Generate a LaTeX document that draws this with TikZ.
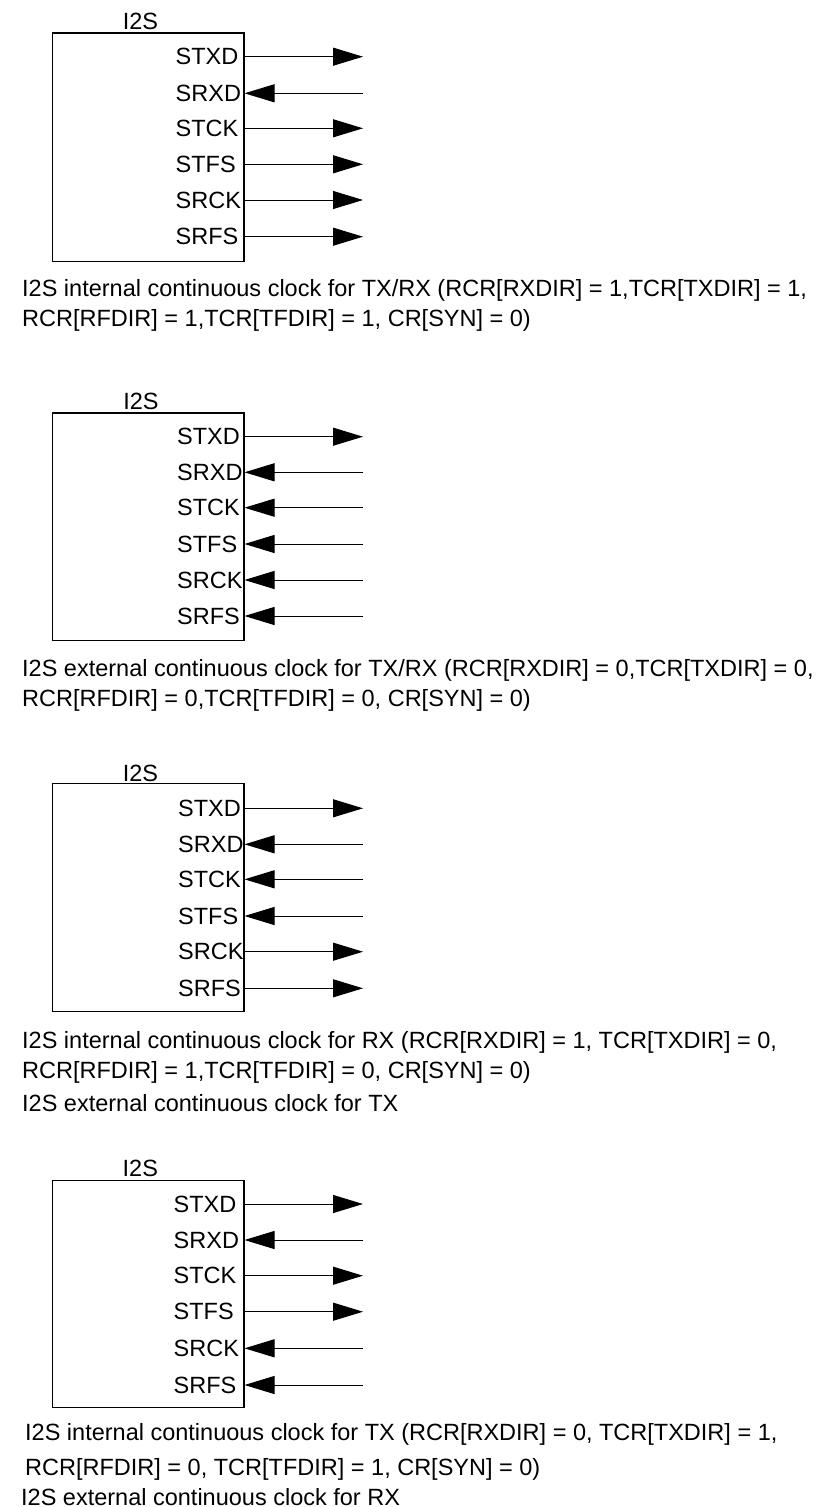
\documentclass[tikz,border=0pt]{standalone}
\usepackage{fontspec}
\setmainfont{Liberation Sans}
\usetikzlibrary{arrows.meta}
\begin{document}
\begin{tikzpicture}[x=1pt,y=-1pt,
  every node/.style={inner sep=0pt, font=\fontsize{23.5}{28}\selectfont},
  chip/.style={draw, line width=1.2pt, rectangle, minimum width=191.6pt, anchor=north west},
  lbl/.style={anchor=west},
  captxt/.style={anchor=base west},
  sigo/.style={line width=1pt, -{Triangle[length=30pt,width=18pt]}},
  sigi/.style={line width=1pt, {Triangle[length=30pt,width=18pt]}-},
]
\useasboundingbox (0,0) rectangle (821,1507);

% ---------- diagram 1 ----------
\node[chip, minimum height=228.4pt] (b1) at (51.7,32.3) {};
\node (t1) at (140.5,21.7) {I2S};
\foreach \i/\y/\n/\d in {1/56.7/STXD/o, 2/93.3/SRXD/i, 3/128.3/STCK/o, 4/164.3/STFS/o, 5/200/SRCK/o, 6/236.7/SRFS/o} {
  \node[lbl] (l1\i) at (175.5,\y) {\n};
  \coordinate (e1\i) at (363,\y);
  \draw[sig\d] (b1.east |- e1\i) -- (e1\i);
}
\node[captxt] (c11) at (22,296.7) {I2S internal continuous clock for TX/RX (RCR[RXDIR] = 1,TCR[TXDIR] = 1,};
\node[captxt] (c12) at (22,326.7) {RCR[RFDIR] = 1,TCR[TFDIR] = 1, CR[SYN] = 0)};

% ---------- diagram 2 ----------
\node[chip, minimum height=227.7pt] (b2) at (51.7,412.3) {};
\node (t2) at (141,401.7) {I2S};
\foreach \i/\y/\n/\d in {1/436.7/STXD/o, 2/472.3/SRXD/i, 3/507.7/STCK/i, 4/544/STFS/i, 5/580/SRCK/i, 6/616/SRFS/i} {
  \node[lbl] (l2\i) at (177,\y) {\n};
  \coordinate (e2\i) at (363,\y);
  \draw[sig\d] (b2.east |- e2\i) -- (e2\i);
}
\node[captxt] (c21) at (22,676.7) {I2S external continuous clock for TX/RX (RCR[RXDIR] = 0,TCR[TXDIR] = 0,};
\node[captxt] (c22) at (22,706.7) {RCR[RFDIR] = 0,TCR[TFDIR] = 0, CR[SYN] = 0)};

% ---------- diagram 3 ----------
\node[chip, minimum height=228pt] (b3) at (51.7,782.7) {};
\node (t3) at (140.5,773) {I2S};
\foreach \i/\y/\n/\d in {1/808.3/STXD/o, 2/844.3/SRXD/i, 3/879.3/STCK/i, 4/916/STFS/i, 5/951.7/SRCK/o, 6/988.3/SRFS/o} {
  \node[lbl] (l3\i) at (178,\y) {\n};
  \coordinate (e3\i) at (363,\y);
  \draw[sig\d] (b3.east |- e3\i) -- (e3\i);
}
\node[captxt] (c31) at (22,1048.3) {I2S internal continuous clock for RX (RCR[RXDIR] = 1, TCR[TXDIR] = 0,};
\node[captxt] (c32) at (22,1078.3) {RCR[RFDIR] = 1,TCR[TFDIR] = 0, CR[SYN] = 0)};
\node[captxt] (c33) at (22,1111.7) {I2S external continuous clock for TX};

% ---------- diagram 4 ----------
\node[chip, minimum height=226.7pt] (b4) at (51.7,1180) {};
\node (t4) at (140.3,1168) {I2S};
\foreach \i/\y/\n/\d in {1/1204/STXD/o, 2/1240/SRXD/i, 3/1275.7/STCK/o, 4/1311.7/STFS/o, 5/1348.3/SRCK/i, 6/1385/SRFS/i} {
  \node[lbl] (l4\i) at (173.5,\y) {\n};
  \coordinate (e4\i) at (363,\y);
  \draw[sig\d] (b4.east |- e4\i) -- (e4\i);
}
\node[captxt] (c41) at (25,1440) {I2S internal continuous clock for TX (RCR[RXDIR] = 0, TCR[TXDIR] = 1,};
\node[captxt] (c42) at (25,1475) {RCR[RFDIR] = 0, TCR[TFDIR] = 1, CR[SYN] = 0)};
\node[captxt] (c43) at (21,1505) {I2S external continuous clock for RX};
\end{tikzpicture}
\end{document}
